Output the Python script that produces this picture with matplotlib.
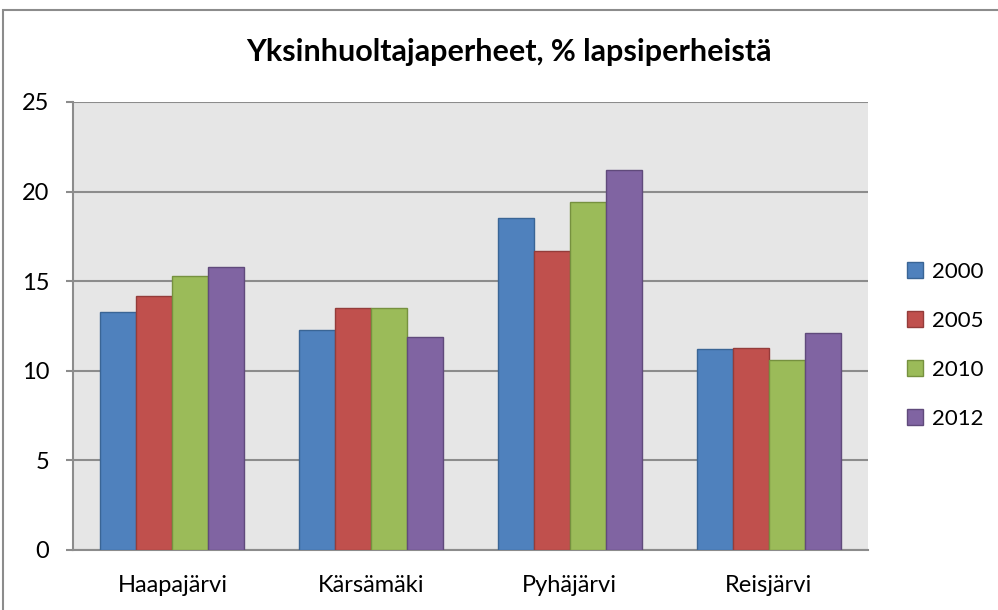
import matplotlib
matplotlib.use("Agg")
import matplotlib.pyplot as plt
import numpy as np
from matplotlib.patches import Rectangle

plt.rcParams['font.family'] = ['Lato', 'DejaVu Sans']

categories = ["Haapajärvi", "Kärsämäki", "Pyhäjärvi", "Reisjärvi"]
years = ["2000", "2005", "2010", "2012"]
v2000 = [13.3, 12.3, 18.5, 11.2]
v2005 = [14.2, 13.5, 16.7, 11.3]
v2010 = [15.3, 13.5, 19.4, 10.6]
v2012 = [15.8, 11.9, 21.2, 12.1]
series = [v2000, v2005, v2010, v2012]
title = "Yksinhuoltajaperheet, % lapsiperheistä"
yticks = [0, 5, 10, 15, 20, 25]

colors = ["#4F81BD", "#C0504D", "#9BBB59", "#8064A2"]
edges = ["#3A6595", "#943C3A", "#76913F", "#604A7B"]

fig = plt.figure(figsize=(9.98, 6.10), dpi=100)
fig.patch.set_facecolor("white")
# outer chart border
fig.add_artist(Rectangle((3/998, -0.1), 1.2, (610-10)/610 + 0.1,
                         transform=fig.transFigure, fill=False,
                         edgecolor="#8C8C8C", linewidth=1.5))

ax = fig.add_axes([73/998, 1-550/610, (868-73)/998, (550-102)/610])
ax.set_facecolor("#E6E6E6")

x = np.arange(len(categories))
bw = 0.181
for i, (vals, c, ec, lab) in enumerate(zip(series, colors, edges, years)):
    ax.bar(x + (i - 1.5) * bw, vals, width=bw, color=c, edgecolor=ec,
           linewidth=1.0, label=lab, zorder=3)

ax.set_xlim(-0.5, len(categories) - 0.5)
ax.set_ylim(0, 25)
ax.set_yticks(yticks)
ax.set_yticklabels([str(t) for t in yticks], fontsize=17, color="#000000")
ax.set_xticks(x)
ax.set_xticklabels(categories, fontsize=17, color="#000000")
ax.yaxis.grid(True, color="#8C8C8C", linewidth=1.5, zorder=1)
ax.set_axisbelow(True)
for s in ["top", "right"]:
    ax.spines[s].set_visible(False)
ax.spines["left"].set_color("#8C8C8C")
ax.spines["left"].set_linewidth(1.5)
ax.spines["bottom"].set_color("#8C8C8C")
ax.spines["bottom"].set_linewidth(1.5)
ax.tick_params(axis="y", length=5, width=1.5, color="#8C8C8C", pad=12)
ax.tick_params(axis="x", length=0, pad=18)

fig.text(509/998, 1-52/610, title, ha="center", va="center",
         fontsize=22, fontweight="bold", color="#000000")

leg = ax.legend(loc="center left", bbox_to_anchor=(1.024, 0.457), frameon=False,
                fontsize=16, handlelength=0.72, handleheight=0.72,
                handletextpad=0.4, labelspacing=1.3)

fig.savefig("out.png", dpi=100)
